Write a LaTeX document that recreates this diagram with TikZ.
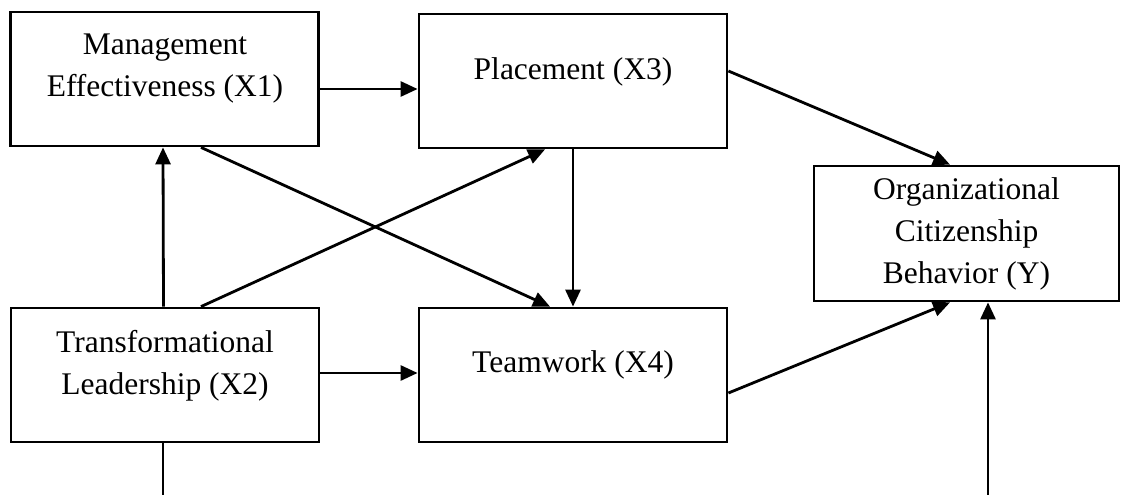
\documentclass[tikz,border=0pt]{standalone}
\usepackage{fontspec}
\setmainfont{Liberation Serif}
\usetikzlibrary{arrows.meta}
\begin{document}
\begin{tikzpicture}[x=1pt,y=-1pt,
  box/.style={draw,line width=2.8pt,minimum width=308pt,minimum height=134pt,inner sep=0pt},
  lbl/.style={align=center,font=\fontsize{31.5pt}{42pt}\selectfont,inner sep=0pt},
  arr/.style={line width=2.8pt,-{Triangle[length=17pt,width=15pt]}},
  thin/.style={line width=1.5pt}]
\useasboundingbox (0,0) rectangle (1122,495);
% boxes
\node[box] (x1) at (164.5,79) {};
\node[box] (x3) at (573,81) {};
\node[box] (x2) at (165,375) {};
\node[box] (x4) at (573,375) {};
\node[box,minimum width=305pt,minimum height=135pt] (y) at (966.5,233.5) {};
% labels
\node[lbl] (t1) at (165,69) {Management\\Effectiveness (X1)};
\node[lbl] (t3) at (573,72) {Placement (X3)};
\node[lbl] (t2) at (165,366) {Transformational\\Leadership (X2)};
\node[lbl] (t4) at (573,365) {Teamwork (X4)};
\node[lbl] (ty) at (966.5,234) {Organizational\\Citizenship\\Behavior (Y)};
% free ends
\coordinate (b2) at (163,495);
\coordinate (by) at (988,495);
% connectors
\draw[arr] ([yshift=-10pt]x1.east) -- ([yshift=-8pt]x3.west);
\draw[arr] ([xshift=-1.5pt]x2.north) -- ([xshift=-1.5pt]x1.south);
\draw[arr] ([xshift=36.5pt]x1.south) -- ([xshift=-23pt]x4.north);
\draw[arr] ([xshift=36pt]x2.north) -- ([xshift=-28pt]x3.south);
\draw[arr] (x3.south) -- (x4.north);
\draw[arr] ([yshift=2pt]x2.east) -- ([yshift=2pt]x4.west);
\draw[arr] ([yshift=10pt]x3.east) -- ([xshift=-16.5pt]y.north);
\draw[arr] ([yshift=-18pt]x4.east) -- ([xshift=-16.5pt]y.south);
\draw[arr] (by) -- (by |- y.south);
\draw[thin] ([xshift=-2pt]x2.south) -- (b2);
\end{tikzpicture}
\end{document}
